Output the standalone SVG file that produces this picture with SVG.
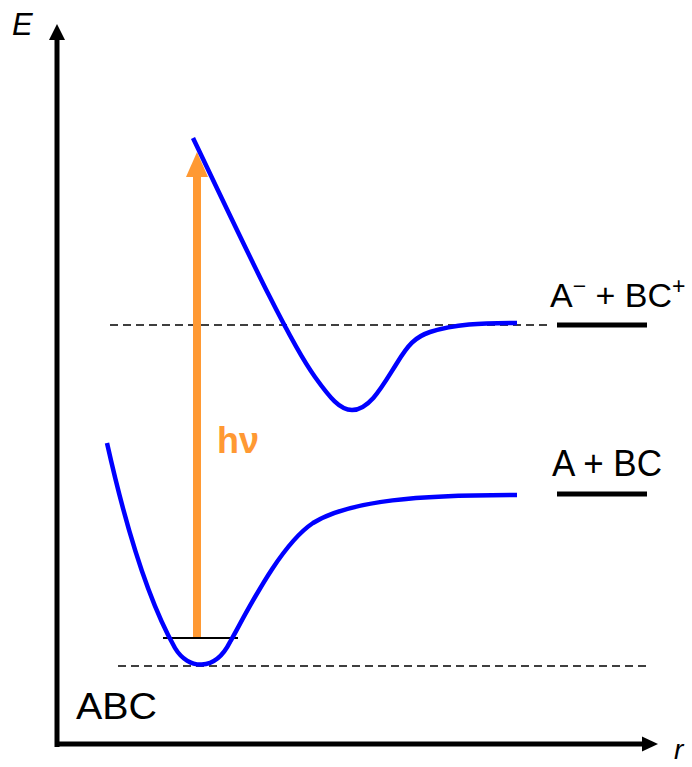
<svg xmlns="http://www.w3.org/2000/svg" width="692" height="767" viewBox="0 0 692 767">
<style>
.lbl{font-family:"Liberation Sans",Arial,sans-serif;font-size:36px;fill:#000}
.ax{stroke:#000;stroke-width:5;fill:none}
.dash{stroke:#000;stroke-width:1.5;stroke-dasharray:8 5;fill:none}
.curve{stroke:#0000FF;stroke-width:4.5;fill:none;stroke-linejoin:round}
.lvl{stroke:#000;stroke-width:5}
</style>
<rect width="692" height="767" fill="#fff"/>
<g id="axes">
<line class="ax" x1="57" y1="747" x2="57" y2="36"/>
<polygon points="57,24 49,40 65,40" fill="#000"/>
<line class="ax" x1="55" y1="744" x2="645" y2="744"/>
<polygon points="658,744 642,736.5 642,751.5" fill="#000"/>
<text x="12" y="35" font-family="Liberation Sans,Arial,sans-serif" font-style="italic" font-size="31">E</text>
<text x="674" y="759" font-family="Liberation Sans,Arial,sans-serif" font-style="italic" font-size="28">r</text>
</g>
<g id="connectors">
<line class="dash" x1="110" y1="325" x2="547" y2="325"/>
<line class="dash" x1="118" y1="666" x2="648" y2="666"/>
<g id="photon">
<line x1="197" y1="637" x2="197" y2="174" stroke="#FF9933" stroke-width="8"/>
<polygon points="197,152 186,177 208,177" fill="#FF9933"/>
</g>
<line x1="163" y1="638" x2="238" y2="638" stroke="#000" stroke-width="2"/>
</g>
<g id="ground-curve">
<path class="curve" d="M107,443 C122,510 145,595 175,648 C188,670 215,672 230,642 C248,610 280,545 313,523 C350,500 420,495 517,495"/>
</g>
<g id="excited-curve">
<path class="curve" d="M193,138 C238,232 288,340 315,377 C330,398 340,410 352,410 C370,410 383,385 397,363 C408,345 415,337 430,332 C455,324 480,323 517,323"/>
</g>
<g id="level-ion">
<line class="lvl" x1="557" y1="325" x2="647" y2="325"/>
<text class="lbl" x="550" y="307" font-size="34" style="font-size:34px">A<tspan font-size="23" style="font-size:23px" dy="-13">−</tspan><tspan dy="13"> + BC</tspan><tspan font-size="23" style="font-size:23px" dy="-13">+</tspan></text>
</g>
<g id="level-neutral">
<line class="lvl" x1="557" y1="494" x2="647" y2="494"/>
<text class="lbl" x="552" y="476" textLength="110" lengthAdjust="spacingAndGlyphs">A + BC</text>
</g>
<g id="abc">
<text class="lbl" x="76" y="719" textLength="81" lengthAdjust="spacingAndGlyphs">ABC</text>
</g>
<g id="hv">
<text x="217" y="453" font-family="Liberation Sans,Arial,sans-serif" font-weight="bold" font-size="36" fill="#FF9933">hν</text>
</g>
</svg>
